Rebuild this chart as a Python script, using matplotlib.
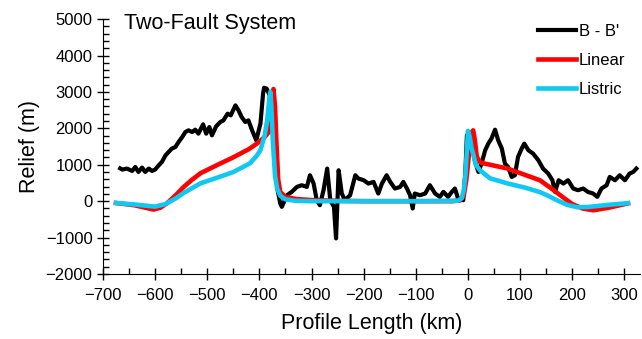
import matplotlib
matplotlib.use('Agg')
import matplotlib.pyplot as plt
from matplotlib.ticker import MultipleLocator

plt.rcParams['font.family'] = ['Liberation Sans', 'DejaVu Sans']

# Профиль B - B' (км, м)
bb_x = [-667, -663, -654, -644, -638, -632, -625, -619, -612, -606, -600, -593, -587,
        -580, -574, -568, -561, -555, -548, -542, -536, -529, -523, -517, -508, -502,
        -496, -491, -483, -475, -469, -461, -455, -446, -440, -434, -427, -421, -414,
        -406, -398, -393, -391, -386, -380, -372, -365, -360, -357, -347, -338, -328,
        -319, -309, -303, -296, -290, -284, -277, -270, -264, -257, -253, -248, -242,
        -236, -226, -216, -210, -200, -191, -181, -172, -165, -156, -149, -140, -130,
        -124, -117, -111, -106, -102, -92, -82, -73, -63, -54, -47, -38, -31, -25, -19,
        -9, -5, -2, 2, 8, 13, 20, 26, 33, 39, 45, 52, 58, 65, 71, 77, 84, 90, 96, 103,
        108, 116, 125, 135, 144, 154, 162, 167, 174, 183, 192, 202, 211, 221, 230, 240,
        248, 256, 266, 272, 282, 291, 301, 310, 317, 323]
bb_y = [900, 868, 895, 830, 940, 803, 923, 803, 895, 830, 868, 986, 1077,
        1260, 1351, 1443, 1488, 1625, 1762, 1899, 1945, 1899, 1963, 1854, 2110, 1854,
        2036, 1808, 2055, 2173, 2219, 2402, 2356, 2630, 2493, 2310, 2173, 2219, 1945,
        1671, 2129, 2950, 3115, 3088, 2900, 1500, 300, -64, -155, 164, 255, 392,
        438, 392, 712, 484, 27, -110, 301, 895, 27, -155, -1022, 849, 210,
        27, 164, 712, 621, 575, 484, 529, 210, 484, 712, 529, 347, 392,
        529, 347, 164, -201, 210, 164, 210, 438, 210, 119, 255, 119, 255, 347, 73,
        27, 800, 1800, 1900, 1500, 1123, 803, 1030, 1397, 1580, 1717, 1963, 1671, 1443, 1030, 940, 666, 712, 1214, 1443,
        1580, 1397, 1306, 1123, 895, 758, 575, 255, 575, 484, 575, 347, 301, 347, 255, 210,
        119, 347, 438, 666, 575, 712, 575, 758, 803, 895]

# Модель: линейный разлом
lin_x = [-675, -640, -603, -590, -577, -560, -546, -530, -513, -480, -450, -420, -404,
         -390, -383, -380, -376, -373, -370, -367, -364, -360, -350, -330, -300, -250,
         -200, -100, -30, -15, -8, -3, 2, 8, 10, 13, 17, 23, 26, 75, 138, 157, 182, 200,
         220, 240, 270, 307]
lin_y = [-50, -110, -230, -180, -55, 170, 380, 580, 767, 1000, 1205, 1430, 1589,
         1760, 1880, 1950, 2500, 3080, 2600, 1500, 600, 250, 120, 60, 30, 10,
         0, 0, 0, 20, 150, 600, 1300, 1900, 1945, 1700, 1214, 1077, 1050, 900, 575, 380, 110, -80,
         -200, -250, -180, -60]

# Модель: листрический разлом
lis_x = [-675, -640, -600, -580, -560, -546, -513, -480, -450, -430, -418, -405, -398,
         -390, -385, -381, -379, -377, -374, -370, -366, -360, -350, -330, -300, -200,
         -100, -20, -12, -8, -5, -2, 0, 3, 7, 10, 15, 23, 42, 75, 110, 138, 155, 170,
         190, 209, 230, 270, 307]
lis_y = [-50, -90, -150, -80, 80, 220, 490, 650, 800, 950, 1040, 1250, 1400,
         1800, 2219, 2800, 3000, 2600, 1600, 700, 350, 150, 50, 10, 0, 0,
         0, 10, 80, 300, 700, 1400, 1930, 1800, 1450, 1300, 1000, 850, 630, 490, 370, 250, 140, 30,
         -100, -164, -160, -100, -55]

fig = plt.figure(figsize=(6.42, 3.39), dpi=100)
ax = fig.add_axes([0.1604, 0.1917, 0.8365, 0.752])

ax.plot(bb_x, bb_y, color='black', lw=3, label="B - B'", solid_joinstyle='round')
ax.plot(lin_x, lin_y, color='#ff0000', lw=3.3, label='Linear')
ax.plot(lis_x, lis_y, color='#10c8f0', lw=3.3, label='Listric')

ax.set_xlim(-700, 330)
ax.set_ylim(-2000, 5000)
ax.xaxis.set_major_locator(MultipleLocator(100))
ax.xaxis.set_minor_locator(MultipleLocator(50))
ax.yaxis.set_major_locator(MultipleLocator(1000))
ax.yaxis.set_minor_locator(MultipleLocator(200))
ax.tick_params(which='major', direction='inout', length=8, width=1, labelsize=12)
ax.tick_params(axis='x', which='major', pad=6)
ax.tick_params(which='minor', direction='in', length=4, width=1)
for s in ['top', 'right']:
    ax.spines[s].set_visible(False)

ax.set_xlabel('Profile Length (km)', fontsize=15.5, labelpad=7)
ax.set_ylabel('Relief (m)', fontsize=15.5, labelpad=4)
ax.text(-660, 4880, 'Two-Fault System', fontsize=15.5, va='center')
ax.legend(loc='upper right', bbox_to_anchor=(1.0, 1.04), frameon=False, fontsize=12,
          handlelength=2.3, handletextpad=0.15, labelspacing=0.85)

plt.savefig('out.png', dpi=100)
